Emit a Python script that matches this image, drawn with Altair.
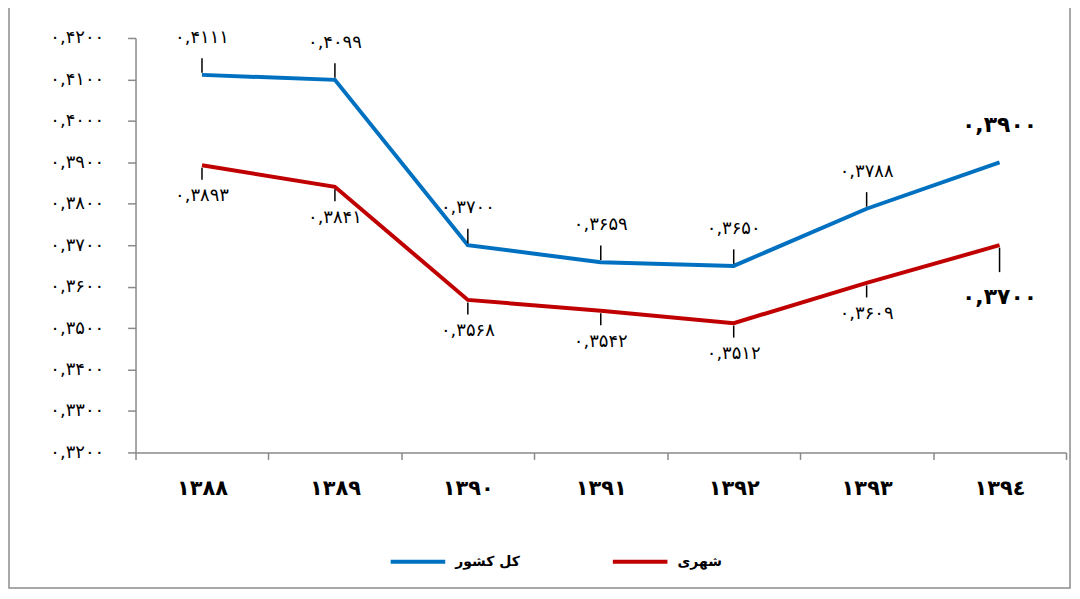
import altair as alt
import pandas as pd

years = ["۱۳۸۸", "۱۳۸۹", "۱۳۹۰", "۱۳۹۱", "۱۳۹۲", "۱۳۹۳", "۱۳۹٤"]
series_names = ["کل کشور", "شهری"]
total_values = [0.4111, 0.4099, 0.3700, 0.3659, 0.3650, 0.3788, 0.3900]
urban_values = [0.3893, 0.3841, 0.3568, 0.3542, 0.3512, 0.3609, 0.3700]
y_ticks = [0.32, 0.33, 0.34, 0.35, 0.36, 0.37, 0.38, 0.39, 0.40, 0.41, 0.42]
colors = ["#0070C0", "#C00000"]

fa = str.maketrans("0123456789.", "۰۱۲۳۴۵۶۷۸۹,")


def fa_label(v):
    return f"{v:.4f}".translate(fa)


rows = []
for name, vals in zip(series_names, [total_values, urban_values]):
    for i, (yr, v) in enumerate(zip(years, vals)):
        rows.append({"year": yr, "series": name, "value": v,
                     "label": fa_label(v), "last": i == len(years) - 1})
df = pd.DataFrame(rows)

# y-axis labels in Persian digits
expr = "replace(format(datum.value, '.4f'), '.', ',')"
for d, p in zip("0123456789", "۰۱۲۳۴۵۶۷۸۹"):
    expr = f"replace({expr}, regexp('{d}', 'g'), '{p}')"

FONT = "DejaVu Sans"

x_enc = alt.X("year:N", sort=years, bandPosition=0.5,
              scale=alt.Scale(type="band", paddingInner=0, paddingOuter=0),
              axis=alt.Axis(title=None, labelFontSize=21, labelFontWeight="bold",
                            labelColor="black", labelFont=FONT, labelPadding=18,
                            tickBand="extent", tickSize=7, tickColor="#8a8a8a",
                            domainColor="#8a8a8a", domainWidth=1.5, tickWidth=1.5,
                            labelAngle=0, grid=False))
y_enc = alt.Y("value:Q",
              scale=alt.Scale(domain=[0.32, 0.42], nice=False, zero=False),
              axis=alt.Axis(title=None, values=y_ticks,
                            labelExpr=expr, labelFontSize=18, labelColor="black",
                            labelFont=FONT, tickSize=8, labelPadding=24,
                            tickColor="#8a8a8a", domainColor="#8a8a8a",
                            domainWidth=1.5, tickWidth=1.5, grid=False))

base = alt.Chart(df)

color_enc = alt.Color("series:N", sort=series_names,
                      scale=alt.Scale(domain=series_names, range=colors),
                      legend=alt.Legend(title=None, orient="none", legendX=254, legendY=496,
                                        direction="horizontal", symbolType="stroke",
                                        symbolSize=3000, symbolStrokeWidth=4,
                                        labelFontSize=14, labelFontWeight="bold",
                                        labelFont=FONT, labelColor="black",
                                        columnPadding=85, labelOffset=8))

lines = base.mark_line(strokeWidth=4).encode(x=x_enc, y=y_enc, color=color_enc)

# leader lines
leaders = base.transform_filter(
    "!(datum.series == '%s' && datum.last)" % series_names[0]
).transform_calculate(
    y1="datum.series == '%s' ? datum.value + 0.0005 : datum.value - 0.0006" % series_names[0],
    y2="datum.series == '%s' ? datum.value + 0.0040 : (datum.last ? datum.value - 0.0065 : datum.value - 0.0035)" % series_names[0],
).mark_rule(color="black", strokeWidth=1.5).encode(
    x=alt.X("year:N", sort=years, bandPosition=0.5),
    y=alt.Y("y1:Q", title=None), y2="y2:Q")

lab_common = dict(fontSize=18, font=FONT, color="black", baseline="middle")

blue_labels = base.transform_filter(
    f"datum.series == '{series_names[0]}' && !datum.last"
).mark_text(dy=-37, **lab_common).encode(
    x=alt.X("year:N", sort=years, bandPosition=0.5), y="value:Q", text="label:N")

red_labels = base.transform_filter(
    f"datum.series == '{series_names[1]}' && !datum.last"
).mark_text(dy=31, **lab_common).encode(
    x=alt.X("year:N", sort=years, bandPosition=0.5), y="value:Q", text="label:N")

blue_last = base.transform_filter(
    f"datum.series == '{series_names[0]}' && datum.last"
).mark_text(dy=-37, fontSize=22, fontWeight="bold", font=FONT, color="black",
            baseline="middle").encode(
    x=alt.X("year:N", sort=years, bandPosition=0.5), y="value:Q", text="label:N")

red_last = base.transform_filter(
    f"datum.series == '{series_names[1]}' && datum.last"
).mark_text(dy=52, fontSize=22, fontWeight="bold", font=FONT, color="black",
            baseline="middle").encode(
    x=alt.X("year:N", sort=years, bandPosition=0.5), y="value:Q", text="label:N")

frame = alt.Chart(pd.DataFrame({"a": [0]})).mark_rect(
    fill=None, stroke="#8c8c8c", strokeWidth=1.5
).encode(x=alt.value(-127), x2=alt.value(938), y=alt.value(-60), y2=alt.value(552))

chart = alt.layer(frame, lines, leaders, blue_labels, red_labels, blue_last, red_last).properties(
    width=934, height=416,
    background="white",
    autosize=alt.AutoSizeParams(type="none"),
    padding={"left": 128, "top": 29, "right": 6, "bottom": 138},
).configure_view(stroke=None).configure_axis(grid=False)

chart.save("out.html", embed_options={"renderer": "svg", "actions": False})
